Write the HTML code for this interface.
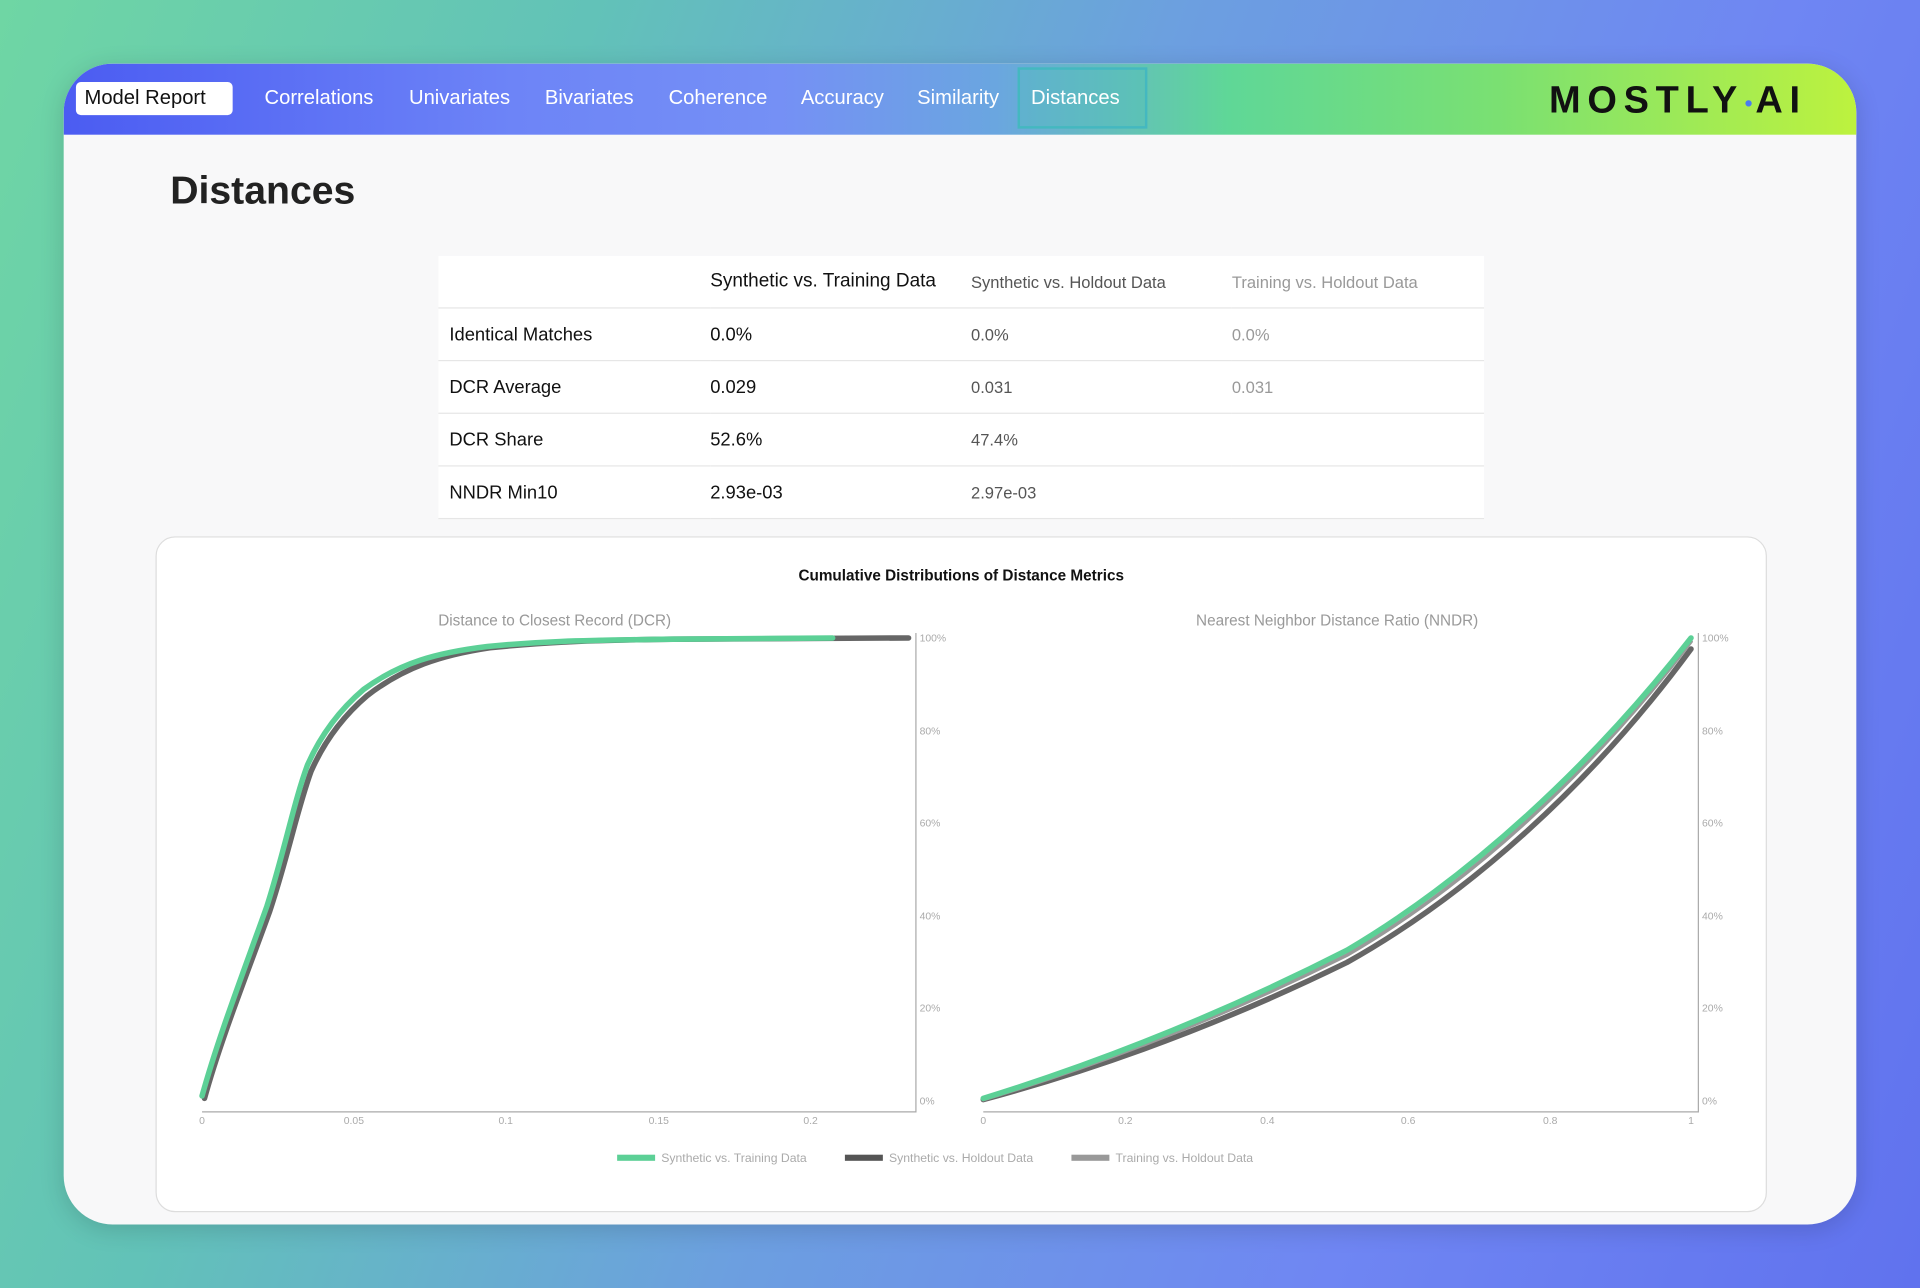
<!DOCTYPE html>
<html><head><meta charset="utf-8"><style>
html,body{margin:0;padding:0;width:1920px;height:1288px;overflow:hidden}
#w{position:absolute;left:0;top:0;width:1568px;height:1052px;transform:scale(1.22449);transform-origin:0 0;
background:linear-gradient(110deg,#6fd6a4 0%,#62c2b8 25%,#6c9fe0 50%,#6f86f3 75%,#6072ee 100%);font-family:"Liberation Sans",sans-serif;overflow:hidden}
.abs{position:absolute}
#card{left:52px;top:52px;width:1464px;height:948px;background:#f8f8f9;border-radius:40px;overflow:hidden;box-shadow:0 4px 20px rgba(0,0,0,.15)}
#hdr{left:0;top:0;width:1464px;height:58px;background:linear-gradient(90deg,#4b5cf2 0%,#6d84f7 25%,#7590f5 40%,#6aa6e0 52%,#5fd797 65%,#7ae072 80%,#bdf23e 100%)}
.nav{position:absolute;top:19px;color:#fff;font-size:16.5px;white-space:nowrap}
td{padding:0;height:42px;border-bottom:1px solid #e6e6e6;font-size:15px}
</style></head><body><div id="w">
<div id="card" class="abs">
 <div id="hdr" class="abs">
  <div class="abs" style="left:10px;top:15px;width:128px;height:27px;background:#fff;border-radius:4px"></div>
  <div class="nav" style="left:17px;color:#111">Model Report</div>
  <div class="nav" style="left:164px">Correlations</div>
  <div class="nav" style="left:282px">Univariates</div>
  <div class="nav" style="left:393px">Bivariates</div>
  <div class="nav" style="left:494px">Coherence</div>
  <div class="nav" style="left:602px">Accuracy</div>
  <div class="nav" style="left:697px">Similarity</div>
  <div class="abs" style="left:779px;top:3px;width:102px;height:46px;border:2px solid #44b8c0;background:rgba(80,190,190,.35)"></div>
  <div class="nav" style="left:790px">Distances</div>
  <div class="abs" style="left:1213px;top:12px;font-size:31px;font-weight:bold;letter-spacing:5.5px;color:#111">MOSTLY<span style="color:#4a7cf0;font-size:12px;vertical-align:middle;letter-spacing:2px">●</span>AI</div>
 </div>
 <div class="abs" style="left:87px;top:85px;font-size:32px;font-weight:bold;color:#222">Distances</div>
 <table class="abs" style="left:306px;top:157px;width:854px;border-collapse:collapse;background:#fff">
  <colgroup><col style="width:222px"><col style="width:213px"><col style="width:213px"><col></colgroup>
  <tr><td></td><td style="font-size:15.5px;color:#111">Synthetic vs. Training Data</td><td style="font-size:13.5px;color:#555">Synthetic vs. Holdout Data</td><td style="font-size:13.5px;color:#999">Training vs. Holdout Data</td></tr>
  <tr><td style="padding-left:9px;color:#111">Identical Matches</td><td style="color:#111">0.0%</td><td style="font-size:13.5px;color:#555">0.0%</td><td style="font-size:13.5px;color:#999">0.0%</td></tr>
  <tr><td style="padding-left:9px;color:#111">DCR Average</td><td style="color:#111">0.029</td><td style="font-size:13.5px;color:#555">0.031</td><td style="font-size:13.5px;color:#999">0.031</td></tr>
  <tr><td style="padding-left:9px;color:#111">DCR Share</td><td style="color:#111">52.6%</td><td style="font-size:13.5px;color:#555">47.4%</td><td></td></tr>
  <tr><td style="padding-left:9px;color:#111">NNDR Min10</td><td style="color:#111">2.93e-03</td><td style="font-size:13.5px;color:#555">2.97e-03</td><td></td></tr>
 </table>
</div>
<div class="abs" style="left:127px;top:438px;width:1314px;height:550px;background:#fff;border:1px solid #ddd;border-radius:16px"></div>
<svg class="abs" style="left:0;top:0" width="1568" height="1052" font-family="Liberation Sans, sans-serif">
 <text x="785" y="474" text-anchor="middle" font-size="12.5" font-weight="bold" fill="#111">Cumulative Distributions of Distance Metrics</text>
 <text x="453" y="511" text-anchor="middle" font-size="12.5" fill="#999">Distance to Closest Record (DCR)</text>
 <text x="1092" y="511" text-anchor="middle" font-size="12.5" fill="#999">Nearest Neighbor Distance Ratio (NNDR)</text>
 <g stroke="#aaa" stroke-width="1" fill="none">
  <polyline points="165,908 748,908 748,517"/>
  <polyline points="803,908 1387,908 1387,517"/>
 </g>
 <g font-size="8.5" fill="#aaa">
  <text x="751" y="524">100%</text><text x="751" y="600">80%</text><text x="751" y="675">60%</text><text x="751" y="751">40%</text><text x="751" y="826">20%</text><text x="751" y="902">0%</text>
  <text x="1390" y="524">100%</text><text x="1390" y="600">80%</text><text x="1390" y="675">60%</text><text x="1390" y="751">40%</text><text x="1390" y="826">20%</text><text x="1390" y="902">0%</text>
 </g>
 <g font-size="8.5" fill="#aaa" text-anchor="middle">
  <text x="165" y="918">0</text><text x="289" y="918">0.05</text><text x="413" y="918">0.1</text><text x="538" y="918">0.15</text><text x="662" y="918">0.2</text>
  <text x="803" y="918">0</text><text x="919" y="918">0.2</text><text x="1035" y="918">0.4</text><text x="1150" y="918">0.6</text><text x="1266" y="918">0.8</text><text x="1381" y="918">1</text>
 </g>
 <g fill="none" stroke-width="4.5" stroke-linejoin="round" stroke-linecap="round">
  <path stroke="#666" d="M167,897 C180,850 200,800 220,745 C235,700 243,660 254,630 C265,605 280,585 300,568 C330,545 360,535 400,529 C440,525 470,523 550,522 L742,521"/>
  <path stroke="#5cd096" d="M165,895 C178,848 198,796 218,740 C232,696 240,655 251,625 C262,600 277,580 297,563 C327,541 357,533 398,528 C438,524 468,523 548,522 L680,521"/>
  <path stroke="#666" d="M803,898 C900,872 1000,835 1100,786 C1200,730 1300,640 1381,530"/>
  <path stroke="#999" stroke-width="3" d="M803,898 C900,869 1000,830 1100,780 C1200,722 1300,630 1381,524"/>
  <path stroke="#5cd096" d="M803,897 C900,867 1000,827 1100,776 C1200,717 1300,625 1381,521"/>
 </g>
 <g font-size="10" fill="#aaa">
  <rect x="504" y="943" width="31" height="5" fill="#5cd096"/><text x="540" y="949">Synthetic vs. Training Data</text>
  <rect x="690" y="943" width="31" height="5" fill="#555"/><text x="726" y="949">Synthetic vs. Holdout Data</text>
  <rect x="875" y="943" width="31" height="5" fill="#999"/><text x="911" y="949">Training vs. Holdout Data</text>
 </g>
</svg>
</div></body></html>
